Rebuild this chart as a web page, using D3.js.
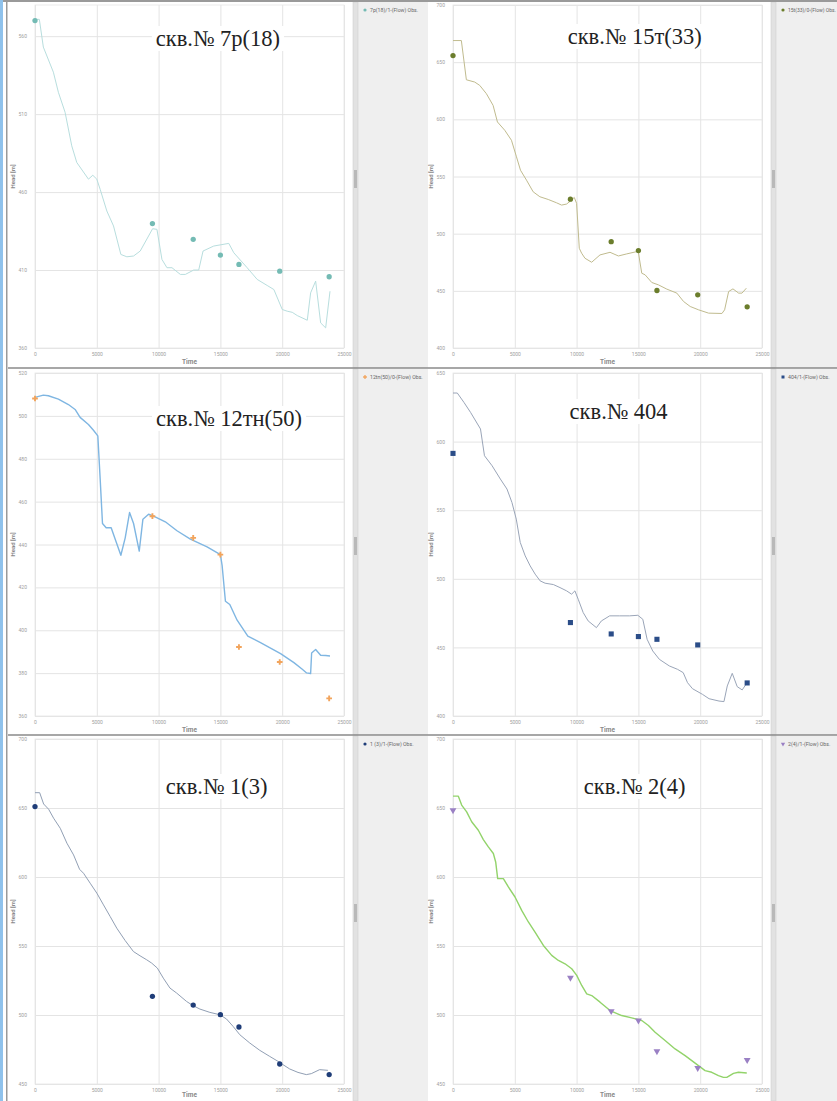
<!DOCTYPE html>
<html>
<head>
<meta charset="utf-8">
<script src="https://cdn.jsdelivr.net/npm/d3@7"></script>
<style>
  body { margin: 0; background: #fff; }
  svg { display: block; }
</style>
</head>
<body>
<script>
// observation times, same for every well
const obsTime = [0, 9500, 12800, 15000, 16500, 19800, 23800];

// скв.№ 7р(18)
const sim7r18 = [[0,570.8],[351,570.8],[676,553],[1487,536.9],[1892,524],[2433,511.2],[2973,489.7],[3379,479],
  [4325,468.3],[4676,470.8],[5000,468.3],[5271,461.8],[5811,447.9],[6352,438.3],[6947,420],[7433,418.5],
  [7974,419],[8514,422.2],[9515,436.5],[9866,436.1],[10271,416.8],[10677,411.5],[11082,411.5],[11758,407.2],
  [12164,407.2],[12839,410],[13245,410],[13596,422.2],[14461,425.4],[15677,427.1],[16083,421.1],[17164,411.5],
  [17975,404],[18786,400.1],[19327,397.5],[20002,384.7],[20408,383.6],[20813,382.9],[21219,380.8],[22029,377.8],
  [22300,395.4],[22706,402.9],[23111,376.1],[23517,372.9],[23868,396.4]];
const obs7r18 = [570, 439.8, 429.7, 419.6, 413.6, 409.3, 405.7];

// скв.№ 15т(33)
const sim15t33 = [[0,668.9],[676,668.9],[1081,634.6],[1757,632.6],[2162,629.7],[2703,622.4],[3244,612.2],[3595,597.7],
  [4190,590.4],[4730,581.7],[5136,567.2],[5460,555.5],[5947,546.8],[6487,536.6],[7028,532.3],[7704,529.9],
  [8379,527],[8785,525],[9190,525.9],[9596,529.4],[9812,531.7],[10001,526.5],[10217,487.2],[10407,482.9],
  [10677,478.5],[11217,475],[11893,481.4],[12704,483.7],[13380,480.5],[14056,482.3],[14867,484.3],[15002,483.4],
  [15272,465.4],[15542,464],[16083,457.3],[16624,455.2],[17300,451.5],[18110,448],[18651,440.7],[19192,436.3],
  [19867,433.4],[20678,430.5],[21759,430.2],[21975,433.4],[22300,449.4],[22651,451.7],[23111,448],[23381,448],
  [23732,452.3]];
const obs15t33 = [655.8, 530.2, 493, 485.2, 450.3, 446.5, 436];

// скв.№ 12тн(50)
const sim12tn50 = [[0,508.6],[676,509.7],[1081,509.4],[1892,507.8],[2703,505.3],[3244,503],[3649,499.3],[4325,496],
  [4730,493.3],[5082,490.7],[5271,470.8],[5460,449.8],[5757,447.8],[6163,447.8],[6568,441.2],[6947,435],
  [7298,443.1],[7650,454.9],[7974,449.8],[8433,436.9],[8731,451.8],[9190,454.1],[9596,453.2],[10542,450.6],
  [11488,446.4],[12569,442.5],[13921,438.9],[15002,435.3],[15137,430.3],[15407,413.5],[15759,412],[16353,404.7],
  [17218,397.3],[18245,394.2],[19056,391.7],[19867,389.1],[20948,384.9],[21624,381.8],[21975,380.1],[22300,379.8],
  [22381,389.4],[22706,391],[23111,388.3],[23517,388.2],[23868,388]];
const obs12tn50 = [508.1, 453.2, 443.1, 435.3, 392.2, 385.2, 368.2];

// скв.№ 404
const sim404 = [[0,635.4],[348,635.4],[884,628.6],[1420,621.3],[2224,609.2],[2546,589.7],[3162,582.4],[3832,572.7],
  [4368,565.4],[4770,555.6],[5119,543.5],[5440,526.5],[5842,516.7],[6244,509.4],[6646,503.4],[7048,498.5],
  [7450,496.8],[8120,495.8],[8656,493.6],[9192,491.2],[9594,488.8],[9862,491.2],[10130,485.1],[10532,475.4],
  [10934,469.3],[11604,464.4],[12006,469.3],[12676,473],[13480,473],[14284,473],[14954,473.4],[15356,470.5],
  [15705,455.9],[16160,447.4],[16696,441.3],[17500,436.5],[18170,434],[18626,431.6],[18974,424.3],[19376,419.9],
  [20180,415.8],[20716,412.6],[21520,410.9],[21922,410.5],[22190,421.9],[22592,431.1],[22994,421.4],[23396,419],
  [23798,424.3]];
const obs404 = [591.4, 468.1, 459.8, 457.9, 455.9, 451.8, 424.1];

// скв.№ 1(3)
const sim1_3 = [[0,661.1],[377,661.1],[699,652.9],[1103,649.1],[1506,642.6],[2044,635.3],[2582,624.5],[3120,616],
  [3605,605.6],[3927,602.7],[4465,595.5],[5003,588.3],[5541,579.8],[6079,571.4],[6617,562.9],[7290,554],
  [7962,546],[8500,542.9],[9038,540],[9442,537.6],[9899,534],[10383,526.7],[10921,519.5],[11459,515.9],
  [12266,509.8],[12804,506.7],[13342,504.3],[14149,501.9],[14956,500.2],[15494,497.1],[16032,491.7],[16570,485.7],
  [17377,479.7],[18184,474.4],[18991,470],[19664,466.4],[20067,464],[20605,460.9],[21278,458.4],[21950,456.8],
  [22354,457.5],[23026,460.4],[23699,459.9]];
const obs1_3 = [651, 513.5, 507.2, 500.2, 491.3, 464.5, 456.8];

// скв.№ 2(4)
const sim2_4 = [[0,658.6],[432,658.6],[701,652.1],[1106,647.2],[1511,640],[2050,633.9],[2455,627.1],[2860,621.8],
  [3265,617],[3453,610.9],[3615,598.8],[4074,598.8],[4479,592.8],[5018,585.5],[5558,575.8],[6097,567.4],
  [6637,560.1],[7312,550.4],[7986,543.2],[8526,539.5],[9065,537.1],[9605,533.5],[10010,528.7],[10414,521.4],
  [10819,515.3],[11224,514.1],[11898,509.3],[12708,503.2],[13652,499.6],[14461,497.9],[15271,496],[15810,492.4],
  [16350,487.5],[17159,481.5],[17969,475.4],[18778,470.6],[19318,466.9],[19858,463.3],[20397,459.7],[20936,458.5],
  [21476,456.1],[21881,454.8],[22151,454.8],[22691,457.7],[23095,458.5],[23770,458]];
const obs2_4 = [648.4, 527, 502.8, 496, 473.7, 461.6, 467.4];

const timeTicks = [0, 5000, 10000, 15000, 20000, 25000];

const W = 837, H = 1101;

// column / row frames of the screenshot collage
const cols = [
  { white: [8, 353], split: 353, legend: [358, 428], plot: [35, 344] },
  { white: [430, 771], split: 771, legend: [776, 837], plot: [453, 762] }
];
const rows = [
  { frame: [2, 368], plot: [5, 348] },
  { frame: [369, 735], plot: [373, 716] },
  { frame: [736, 1101], plot: [739, 1084] }
];

const panels = [
  { title: 'скв.№ 7р(18)', legend: '7p(18)/1-(Flow) Obs.', sim: sim7r18, obs: obs7r18, col: 0, row: 0,
    y: [360, 580], yTicks: [360, 410, 460, 510, 560], line: '#b8dede', lineW: 1, dot: '#74bbb4', symbol: 'circle',
    titleX: 14800, titleDy: 41 },
  { title: 'скв.№ 15т(33)', legend: '15t(33)/0-(Flow) Obs.', sim: sim15t33, obs: obs15t33, col: 1, row: 0,
    y: [400, 700], yTicks: [400, 450, 500, 550, 600, 650, 700], line: '#c0bb8e', lineW: 1, dot: '#6b7d2c', symbol: 'circle',
    titleX: 14700, titleDy: 39 },
  { title: 'скв.№ 12тн(50)', legend: '12tn(50)/0-(Flow) Obs.', sim: sim12tn50, obs: obs12tn50, col: 0, row: 1,
    y: [360, 520], yTicks: [360, 380, 400, 420, 440, 460, 480, 500, 520], line: '#7fb6e2', lineW: 1.4, dot: '#f2a45c', symbol: 'cross',
    titleX: 15700, titleDy: 53 },
  { title: 'скв.№ 404', legend: '404/1-(Flow) Obs.', sim: sim404, obs: obs404, col: 1, row: 1,
    y: [400, 650], yTicks: [400, 450, 500, 550, 600, 650], line: '#9aa5b8', lineW: 1, dot: '#2b4d88', symbol: 'square',
    titleX: 13400, titleDy: 46 },
  { title: 'скв.№ 1(3)', legend: '1 (3)/1-(Flow) Obs.', sim: sim1_3, obs: obs1_3, col: 0, row: 2,
    y: [450, 700], yTicks: [450, 500, 550, 600, 650, 700], line: '#919fb4', lineW: 1, dot: '#1f3d78', symbol: 'circle',
    titleX: 14700, titleDy: 55 },
  { title: 'скв.№ 2(4)', legend: '2(4)/1-(Flow) Obs.', sim: sim2_4, obs: obs2_4, col: 1, row: 2,
    y: [450, 700], yTicks: [450, 500, 550, 600, 650, 700], line: '#92d36a', lineW: 1.4, dot: '#9a80c4', symbol: 'triangle',
    titleX: 14700, titleDy: 55 }
];

const svg = d3.select('body').append('svg')
  .attr('width', W)
  .attr('height', H);

svg.append('rect').attr('width', W).attr('height', H).attr('fill', '#fff');

// legend side panes + splitters
cols.forEach(c => {
  rows.forEach(r => {
    svg.append('rect')
      .attr('x', c.legend[0]).attr('y', r.frame[0])
      .attr('width', c.legend[1] - c.legend[0]).attr('height', r.frame[1] - r.frame[0])
      .attr('fill', '#efefef');
    svg.append('rect')
      .attr('x', c.split).attr('y', r.frame[0])
      .attr('width', 5).attr('height', r.frame[1] - r.frame[0])
      .attr('fill', '#e2e2e2').attr('stroke', '#cfcfcf').attr('stroke-width', 0.6);
    svg.append('rect')
      .attr('x', c.split + 1).attr('y', r.frame[0] + 168)
      .attr('width', 3).attr('height', 18)
      .attr('fill', '#b9b9b9');
  });
});

// row separators
rows.slice(1).forEach(r => {
  svg.append('line')
    .attr('x1', 8).attr('x2', W)
    .attr('y1', r.frame[0] - 1).attr('y2', r.frame[0] - 1)
    .attr('stroke', '#8a8a8a').attr('stroke-width', 1.4);
});

// window chrome: top bar, left border
svg.append('rect').attr('x', 0).attr('y', 0).attr('width', W).attr('height', 2).attr('fill', '#9a9a9a');
svg.append('rect').attr('x', 0).attr('y', 0).attr('width', 3).attr('height', H).attr('fill', '#8fc2ec');
svg.append('rect').attr('x', 6).attr('y', 0).attr('width', 1.5).attr('height', H).attr('fill', '#9a9a9a');

const symbols = {
  circle: d3.symbol().type(d3.symbolCircle).size(22),
  square: d3.symbol().type(d3.symbolSquare).size(26),
  cross: d3.symbol().type(d3.symbolCross).size(18),
  triangle: d3.symbol().type(d3.symbolTriangle).size(20)
};
const legendSymbols = {
  circle: d3.symbol().type(d3.symbolCircle).size(8),
  square: d3.symbol().type(d3.symbolSquare).size(9),
  cross: d3.symbol().type(d3.symbolCross).size(8),
  triangle: d3.symbol().type(d3.symbolTriangle).size(8)
};

function styleAxis(a) {
  a.select('.domain').remove();
  a.selectAll('line').attr('stroke', '#e4e4e4');
  a.selectAll('text').attr('fill', '#a0a0a0').attr('font-size', 5).attr('font-family', 'Roboto');
}

function drawPanel(p) {
  const c = cols[p.col], r = rows[p.row];

  const x = d3.scaleLinear().domain([0, 25000]).range(c.plot);
  const y = d3.scaleLinear().domain(p.y).range([r.plot[1], r.plot[0]]);

  const g = svg.append('g');

  // grid
  g.append('g')
    .attr('transform', `translate(0,${r.plot[1]})`)
    .call(d3.axisBottom(x).tickValues(timeTicks).tickSize(-(r.plot[1] - r.plot[0])).tickFormat(d => d).tickPadding(4))
    .call(styleAxis);

  g.append('g')
    .attr('transform', `translate(${c.plot[0]},0)`)
    .call(d3.axisLeft(y).tickValues(p.yTicks).tickSize(-(c.plot[1] - c.plot[0])).tickPadding(8))
    .call(styleAxis);

  g.append('rect')
    .attr('x', c.plot[0]).attr('y', r.plot[0])
    .attr('width', c.plot[1] - c.plot[0]).attr('height', r.plot[1] - r.plot[0])
    .attr('fill', 'none').attr('stroke', '#e6e6e6').attr('stroke-width', 0.8);

  // axis titles
  g.append('text')
    .attr('x', (c.plot[0] + c.plot[1]) / 2)
    .attr('y', Math.min(r.plot[1] + 16, H - 4))
    .attr('text-anchor', 'middle')
    .attr('font-family', 'Roboto').attr('font-weight', 'bold')
    .attr('font-size', 6.5).attr('fill', '#8a8a8a')
    .text('Time');

  g.append('text')
    .attr('transform', `translate(${c.plot[0] - 20},${(r.plot[0] + r.plot[1]) / 2}) rotate(-90)`)
    .attr('text-anchor', 'middle')
    .attr('font-family', 'Roboto').attr('font-weight', 'bold')
    .attr('font-size', 6).attr('fill', '#8a8a8a')
    .text('Head [m]');

  // simulated head
  const line = d3.line()
    .x(d => x(d[0]))
    .y(d => y(d[1]));

  g.append('path')
    .datum(p.sim)
    .attr('d', line)
    .attr('fill', 'none')
    .attr('stroke', p.line)
    .attr('stroke-width', p.lineW)
    .attr('stroke-linejoin', 'round');

  // observed head
  const rot = p.symbol === 'triangle' ? ' rotate(180)' : '';
  g.selectAll('path.obs')
    .data(p.obs.map((h, i) => [obsTime[i], h]))
    .enter()
      .append('path')
      .attr('class', 'obs')
      .attr('d', symbols[p.symbol])
      .attr('transform', d => `translate(${x(d[0])},${y(d[1])})${rot}`)
      .attr('fill', p.dot);

  // pasted title label
  const label = g.append('text')
    .attr('x', x(p.titleX)).attr('y', r.plot[0] + p.titleDy)
    .attr('text-anchor', 'middle')
    .attr('font-family', 'Liberation Serif')
    .attr('font-size', 22.5)
    .attr('fill', '#222')
    .text(p.title);
  const bb = label.node().getBBox();
  g.insert('rect', () => label.node())
    .attr('x', bb.x - 4).attr('y', bb.y)
    .attr('width', bb.width + 8).attr('height', bb.height)
    .attr('fill', '#fff');

  // legend entry
  const lg = svg.append('g').attr('transform', `translate(${c.legend[0] + 7},${r.frame[0] + 8})`);
  lg.append('path')
    .attr('d', legendSymbols[p.symbol])
    .attr('transform', p.symbol === 'triangle' ? 'rotate(180)' : null)
    .attr('fill', p.dot);
  const lt = lg.append('text')
    .attr('x', 5).attr('y', 2)
    .attr('font-family', 'Roboto').attr('font-size', 5.2)
    .attr('fill', '#666')
    .text(p.legend);
  // squeeze the label into the pane if it would run off the page
  const room = W - 1 - (c.legend[0] + 12);
  if (lt.node().getComputedTextLength() > room) {
    lt.attr('textLength', room).attr('lengthAdjust', 'spacingAndGlyphs');
  }
}

panels.forEach(drawPanel);
</script>
</body>
</html>
